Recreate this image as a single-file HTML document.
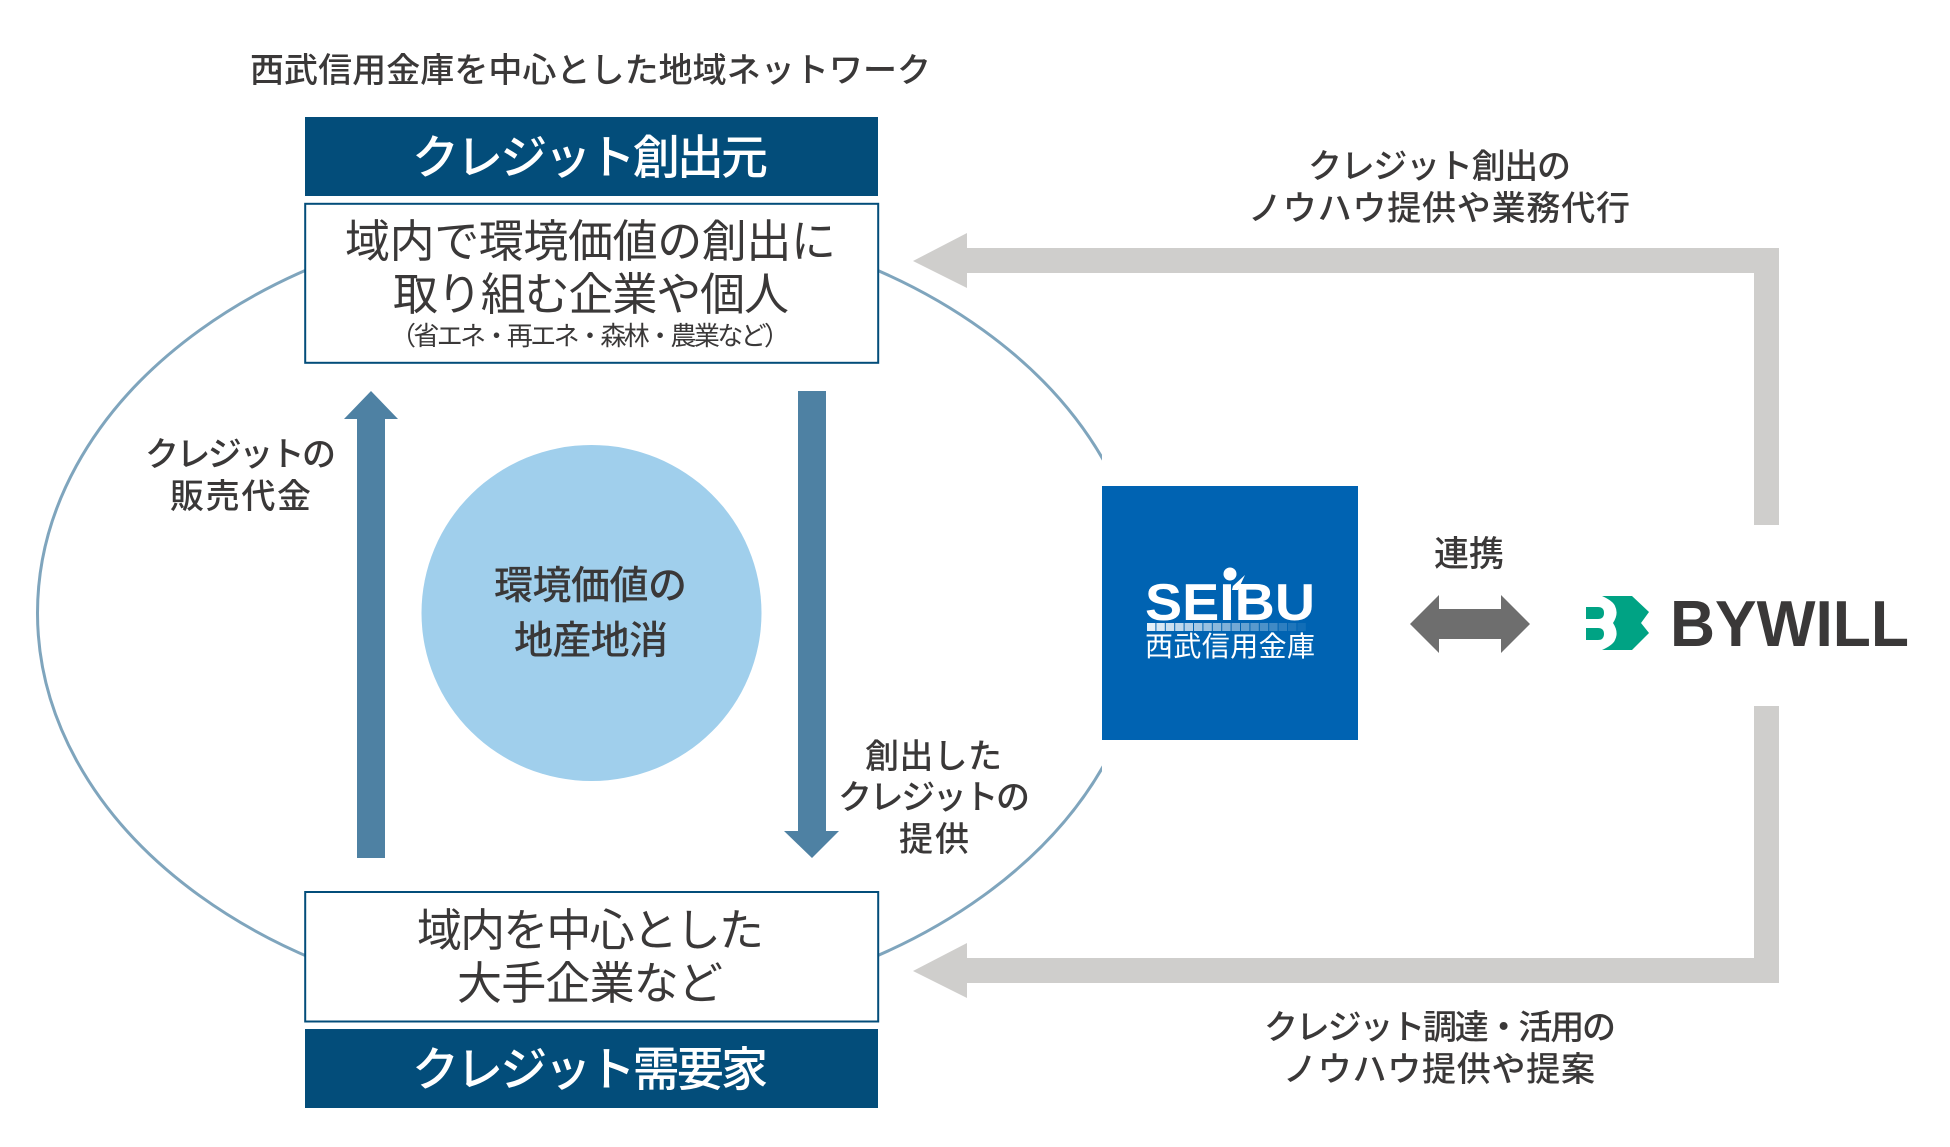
<!DOCTYPE html>
<html lang="ja">
<head>
<meta charset="utf-8">
<title>西武信用金庫を中心とした地域ネットワーク</title>
<style>
html,body{margin:0;padding:0;background:#fff;width:1950px;height:1147px;overflow:hidden}
svg{display:block}
text{font-family:"Liberation Sans","Noto Sans CJK JP",sans-serif;fill:#3a3838}
.m{font-weight:500}
</style>
</head>
<body>
<svg xmlns="http://www.w3.org/2000/svg" width="1950" height="1147" viewBox="0 0 1950 1147">
<defs>
<clipPath id="c"><rect x="0" y="0" width="1102" height="1147"/></clipPath>
</defs>
<rect width="1950" height="1147" fill="#fff"/>

<!-- ellipse -->
<ellipse cx="591.5" cy="613" rx="554" ry="400" fill="none" stroke="#7fa5bd" stroke-width="3" clip-path="url(#c)"/>

<!-- centre circle -->
<ellipse cx="591.5" cy="613" rx="170" ry="168" fill="#a0cfec"/>
<text class="m" x="494" y="599" font-size="39" textLength="193">環境価値の</text>
<text class="m" x="514" y="654" font-size="39" textLength="154">地産地消</text>

<!-- title -->
<text class="m" x="250" y="82" font-size="34" textLength="681">西武信用金庫を中心とした地域ネットワーク</text>

<!-- top header + box -->
<rect x="305" y="117" width="573" height="79" fill="#034d7a"/>
<text x="412" y="174" font-size="47" class="m" style="fill:#fff" textLength="356">クレジット創出元</text>
<rect x="305.2" y="203.8" width="573" height="159" fill="#fff" stroke="#034d7a" stroke-width="2"/>
<text x="345" y="257" font-size="45" textLength="491">域内で環境価値の創出に</text>
<text x="393" y="310" font-size="45" textLength="396">取り組む企業や個人</text>
<text x="390" y="345" font-size="26" textLength="400">（省エネ・再エネ・森林・農業など）</text>

<!-- bottom box + header -->
<rect x="305.2" y="892" width="573" height="129.5" fill="#fff" stroke="#034d7a" stroke-width="2"/>
<text x="417" y="946" font-size="45" textLength="347">域内を中心とした</text>
<text x="457" y="999" font-size="45" textLength="266">大手企業など</text>
<rect x="305" y="1029" width="573" height="79" fill="#034d7a"/>
<text x="412" y="1086" font-size="47" class="m" style="fill:#fff" textLength="356">クレジット需要家</text>

<!-- blue arrows -->
<polygon points="371,391 398,419 385,419 385,858 357,858 357,419 344,419" fill="#4e81a3"/>
<polygon points="798,391 826,391 826,831 839,831 812,858 784,831 798,831" fill="#4e81a3"/>

<!-- left label -->
<text class="m" x="145" y="466" font-size="34" textLength="191">クレジットの</text>
<text class="m" x="170" y="508" font-size="34" textLength="141">販売代金</text>

<!-- right label -->
<text class="m" x="865" y="768" font-size="34" textLength="137">創出した</text>
<text class="m" x="838" y="809" font-size="34" textLength="192">クレジットの</text>
<text class="m" x="899" y="851" font-size="34" textLength="70">提供</text>

<!-- grey connectors -->
<polygon points="913,261 967,233 967,248 1779,248 1779,525 1754,525 1754,273 967,273 967,288" fill="#cfcecc"/>
<polygon points="913,971 967,943 967,958 1754,958 1754,706 1779,706 1779,983 967,983 967,998" fill="#cfcecc"/>

<text class="m" x="1308" y="178" font-size="34" textLength="263">クレジット創出の</text>
<text class="m" x="1248" y="220" font-size="34" textLength="382">ノウハウ提供や業務代行</text>
<text class="m" x="1264" y="1039" font-size="34" textLength="352">クレジット調達・活用の</text>
<text class="m" x="1283" y="1081" font-size="34" textLength="312">ノウハウ提供や提案</text>

<!-- SEIBU logo -->
<rect x="1102" y="486" width="256" height="254" fill="#0063b2"/>
<text x="1145" y="620" font-size="52" font-weight="700" style="fill:#fff" textLength="170" lengthAdjust="spacingAndGlyphs">SEIBU</text>
<circle cx="1230" cy="574" r="6.5" fill="#fff"/>
<path d="M1245 575 L1233 586 L1232 590 L1238 590 Z" fill="#fff"/>
<g fill="#fff">
<rect x="1147" y="623" width="8.4" height="8" opacity=".9"/>
<rect x="1156.4" y="623" width="8.4" height="8" opacity=".85"/>
<rect x="1165.8" y="623" width="8.4" height="8" opacity=".8"/>
<rect x="1175.2" y="623" width="8.4" height="8" opacity=".75"/>
<rect x="1184.6" y="623" width="8.4" height="8" opacity=".7"/>
<rect x="1194" y="623" width="8.4" height="8" opacity=".65"/>
<rect x="1203.4" y="623" width="8.4" height="8" opacity=".6"/>
<rect x="1212.8" y="623" width="8.4" height="8" opacity=".55"/>
<rect x="1222.2" y="623" width="8.4" height="8" opacity=".5"/>
<rect x="1231.6" y="623" width="8.4" height="8" opacity=".45"/>
<rect x="1241" y="623" width="8.4" height="8" opacity=".4"/>
<rect x="1250.4" y="623" width="8.4" height="8" opacity=".35"/>
<rect x="1259.8" y="623" width="8.4" height="8" opacity=".3"/>
<rect x="1269.2" y="623" width="8.4" height="8" opacity=".25"/>
<rect x="1278.6" y="623" width="8.4" height="8" opacity=".18"/>
<rect x="1288" y="623" width="8.4" height="8" opacity=".12"/>
<rect x="1297.4" y="623" width="8.4" height="8" opacity=".07"/>
</g>
<text x="1145" y="656" font-size="28" style="fill:#fff" textLength="170">西武信用金庫</text>

<!-- double arrow -->
<text class="m" x="1434" y="566" font-size="35" textLength="70">連携</text>
<polygon points="1410,624 1439,595 1439,609 1501,609 1501,595 1530,624 1501,653 1501,639 1439,639 1439,653" fill="#6e6e6e"/>

<!-- BYWILL logo -->
<path d="M1602 596 H1632 L1649 612 L1641 623 L1649 633 L1632 650 H1602 Q1613 645 1615 640 Q1619 632 1613 623 Q1619 614 1615 606 Q1613 601 1602 596 Z" fill="#00a384"/>
<path d="M1586 607 H1598 Q1604 607 1604 613 Q1604 619 1598 619 H1586 Z" fill="#00a384"/>
<path d="M1586 628 H1598 Q1604 628 1604 634 Q1604 640 1598 640 H1586 Z" fill="#00a384"/>
<text x="1670" y="646" font-size="65" font-weight="700" style="fill:#3a3838" textLength="239" lengthAdjust="spacingAndGlyphs">BYWILL</text>
</svg>
</body>
</html>
